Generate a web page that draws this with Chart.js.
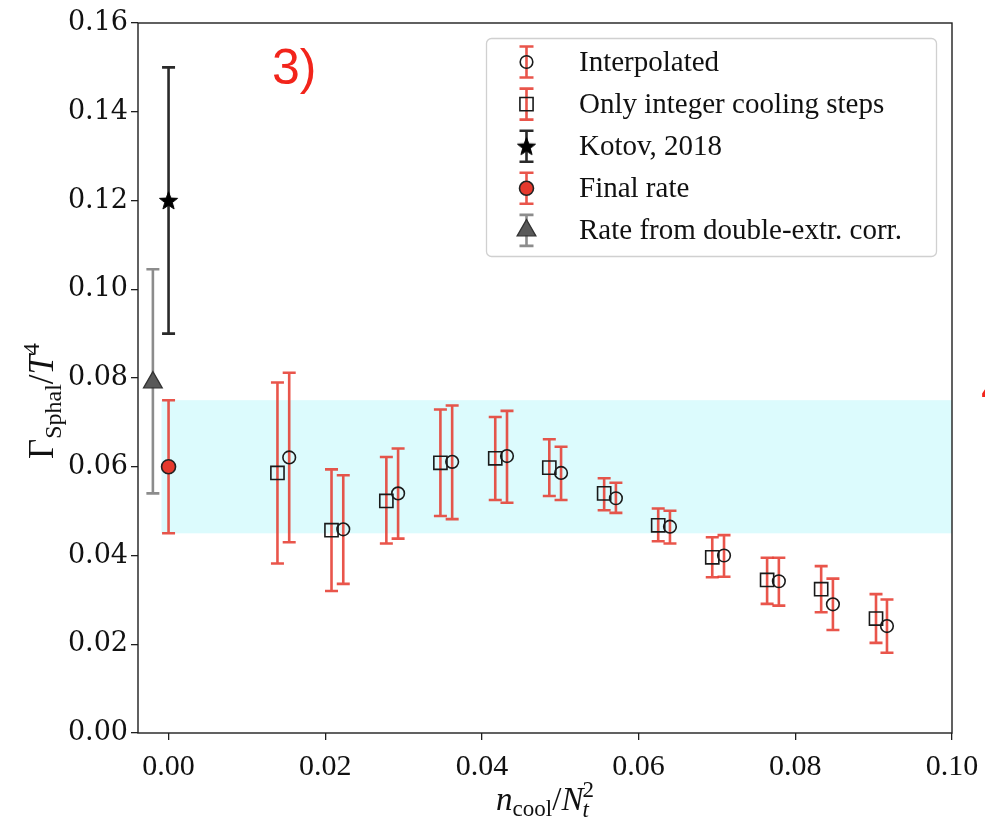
<!DOCTYPE html>
<html>
<head>
<meta charset="utf-8">
<script src="https://cdn.jsdelivr.net/npm/chart.js@4.4.1/dist/chart.umd.min.js"></script>
<style>
  html, body { margin: 0; padding: 0; background: #fff; }
  canvas { display: block; }
</style>
</head>
<body>
<canvas id="c" width="985" height="830"></canvas>
<script>
// ---------------- data ----------------
const xTicks = [0.00, 0.02, 0.04, 0.06, 0.08, 0.10];
const yTicks = [0.00, 0.02, 0.04, 0.06, 0.08, 0.10, 0.12, 0.14, 0.16];

// interpolated rates (circles)
const interpX    = [0.0154, 0.0223, 0.0293, 0.0362, 0.0432, 0.0501, 0.0571, 0.0640, 0.0709, 0.0779, 0.0848, 0.0917];
const interpY    = [0.0621, 0.0459, 0.0540, 0.0611, 0.0624, 0.0586, 0.0529, 0.0465, 0.0400, 0.0342, 0.0290, 0.0241];
const interpLow  = [0.0430, 0.0336, 0.0438, 0.0482, 0.0519, 0.0525, 0.0496, 0.0427, 0.0352, 0.0287, 0.0232, 0.0181];
const interpHigh = [0.0812, 0.0581, 0.0641, 0.0738, 0.0726, 0.0645, 0.0564, 0.0501, 0.0446, 0.0395, 0.0348, 0.0301];

// integer cooling steps only (squares)
const integerX    = [0.0139, 0.0208, 0.0278, 0.0347, 0.0417, 0.0486, 0.0556, 0.0625, 0.0694, 0.0764, 0.0833, 0.0903];
const integerY    = [0.0586, 0.0457, 0.0523, 0.0609, 0.0619, 0.0598, 0.0540, 0.0468, 0.0396, 0.0345, 0.0324, 0.0258];
const integerLow  = [0.0382, 0.0320, 0.0427, 0.0489, 0.0525, 0.0534, 0.0502, 0.0432, 0.0351, 0.0291, 0.0272, 0.0203];
const integerHigh = [0.0790, 0.0594, 0.0622, 0.0729, 0.0712, 0.0662, 0.0574, 0.0506, 0.0441, 0.0395, 0.0376, 0.0313];

// single points
const kotovX = [0.0],    kotovY = [0.120], kotovLow = [0.090], kotovHigh = [0.150];
const finalX = [0.0],    finalY = [0.060], finalLow = [0.045], finalHigh = [0.075];
const doubleX = [-0.002], doubleY = [0.079], doubleLow = [0.054], doubleHigh = [0.1045];

// final-rate band
const bandX = [-0.0009, 0.10];
const bandLow = 0.045, bandHigh = 0.075;

const seriesLabels = ['Interpolated', 'Only integer cooling steps', 'Kotov, 2018', 'Final rate', 'Rate from double-extr. corr.'];

// ---------------- helpers ----------------
const pts = (xs, ys) => xs.map((x, i) => ({ x: x, y: ys[i] }));

function starCanvas(r, color) {
  const s = Math.ceil(r * 2 + 4);
  const c = document.createElement('canvas');
  c.width = c.height = s;
  const g = c.getContext('2d');
  g.translate(s / 2, s / 2 + 0.8);
  g.beginPath();
  for (let k = 0; k < 10; k++) {
    const rad = (k % 2) ? r * 0.42 : r;
    const ang = -Math.PI / 2 + k * Math.PI / 5;
    g.lineTo(rad * Math.cos(ang), rad * Math.sin(ang));
  }
  g.closePath();
  g.fillStyle = color; g.fill();
  g.strokeStyle = color; g.lineWidth = 1; g.stroke();
  return c;
}
const starImg = starCanvas(9.5, '#000');

const RED_ERR = 'rgba(229,55,44,0.85)';

// marker painter used by the legend (same geometry as Chart.js point styles)
function paintMarker(ctx, ds, x, y) {
  ctx.save();
  const st = ds.pointStyle, r = ds.pointRadius;
  if (st instanceof HTMLCanvasElement) {
    ctx.drawImage(st, x - st.width / 2, y - st.height / 2);
    ctx.restore();
    return;
  }
  ctx.fillStyle = ds.backgroundColor;
  ctx.strokeStyle = ds.borderColor;
  ctx.lineWidth = ds.pointBorderWidth;
  ctx.beginPath();
  if (st === 'circle') {
    ctx.arc(x, y, r, 0, Math.PI * 2);
  } else if (st === 'rect') {
    const s = r / Math.SQRT2;
    ctx.rect(x - s, y - s, 2 * s, 2 * s);
  } else if (st === 'triangle') {
    ctx.moveTo(x, y - r);
    ctx.lineTo(x + Math.sin(Math.PI * 2 / 3) * r, y - Math.cos(Math.PI * 2 / 3) * r);
    ctx.lineTo(x + Math.sin(Math.PI * 4 / 3) * r, y - Math.cos(Math.PI * 4 / 3) * r);
    ctx.closePath();
  }
  ctx.fill();
  ctx.stroke();
  ctx.restore();
}

// rich text: segments with their own font and vertical shift
function richWidth(ctx, segs) {
  let w = 0;
  segs.forEach(s => { ctx.font = s.font; w += ctx.measureText(s.t).width + (s.kern || 0); });
  return w;
}
function richDraw(ctx, segs, x, y) {
  let cx = x;
  segs.forEach(s => {
    ctx.font = s.font;
    ctx.fillText(s.t, cx, y + (s.dy || 0));
    cx += ctx.measureText(s.t).width + (s.kern || 0);
  });
}

// ---------------- plugins ----------------
const bandPlugin = {
  id: 'band',
  beforeDatasetsDraw(chart) {
    const { ctx, chartArea: a, scales: { x, y } } = chart;
    ctx.save();
    ctx.beginPath(); ctx.rect(a.left, a.top, a.right - a.left, a.bottom - a.top); ctx.clip();
    const x0 = x.getPixelForValue(bandX[0]), x1 = x.getPixelForValue(bandX[1]);
    const y0 = y.getPixelForValue(bandHigh), y1 = y.getPixelForValue(bandLow);
    ctx.fillStyle = '#dcfbfd';
    ctx.fillRect(x0, y0, x1 - x0, y1 - y0);
    ctx.restore();
  }
};

const errorBarPlugin = {
  id: 'errorBars',
  beforeDatasetsDraw(chart) {
    const { ctx, scales: { x, y } } = chart;
    chart.data.datasets.forEach((ds, i) => {
      if (!ds.errLow || !chart.isDatasetVisible(i)) return;
      ctx.save();
      ctx.strokeStyle = ds.errColor;
      ctx.lineWidth = ds.errWidth;
      const cap = ds.capHalf;
      ds.data.forEach((p, j) => {
        const px = x.getPixelForValue(p.x);
        const top = y.getPixelForValue(ds.errHigh[j]);
        const bot = y.getPixelForValue(ds.errLow[j]);
        ctx.beginPath();
        ctx.moveTo(px, top); ctx.lineTo(px, bot);
        ctx.moveTo(px - cap, top); ctx.lineTo(px + cap, top);
        ctx.moveTo(px - cap, bot); ctx.lineTo(px + cap, bot);
        ctx.stroke();
      });
      ctx.restore();
    });
  }
};

const framePlugin = {
  id: 'frame',
  afterDraw(chart) {
    const { ctx, chartArea: a } = chart;
    ctx.save();
    ctx.strokeStyle = '#1e1e1e';
    ctx.lineWidth = 1.4;
    ctx.strokeRect(a.left, a.top, a.right - a.left, a.bottom - a.top);
    ctx.restore();
  }
};

const legendPlugin = {
  id: 'errLegend',
  afterDraw(chart) {
    const { ctx, chartArea: a } = chart;
    const w = 450, h = 218;
    const bx = a.right - 15.5 - w, by = a.top + 15.5;
    ctx.save();
    // rounded box
    const rr = 5;
    ctx.beginPath();
    ctx.moveTo(bx + rr, by);
    ctx.arcTo(bx + w, by, bx + w, by + h, rr);
    ctx.arcTo(bx + w, by + h, bx, by + h, rr);
    ctx.arcTo(bx, by + h, bx, by, rr);
    ctx.arcTo(bx, by, bx + w, by, rr);
    ctx.closePath();
    ctx.fillStyle = 'rgba(255,255,255,0.85)';
    ctx.fill();
    ctx.strokeStyle = '#d0d0d0';
    ctx.lineWidth = 1.3;
    ctx.stroke();

    const dsets = chart.data.datasets;
    dsets.forEach((ds, i) => {
      const cy = by + 23.5 + i * 42.1;
      const sx = bx + 40;
      // error-bar glyph
      ctx.save();
      ctx.strokeStyle = ds.errColor;
      ctx.lineWidth = ds.errWidth;
      const hh = 15.5, cap = 7;
      ctx.beginPath();
      ctx.moveTo(sx, cy - hh); ctx.lineTo(sx, cy + hh);
      ctx.moveTo(sx - cap, cy - hh); ctx.lineTo(sx + cap, cy - hh);
      ctx.moveTo(sx - cap, cy + hh); ctx.lineTo(sx + cap, cy + hh);
      ctx.stroke();
      ctx.restore();
      paintMarker(ctx, ds, sx, cy);
      // label
      ctx.fillStyle = '#111';
      ctx.font = '29px "Liberation Serif"';
      ctx.textBaseline = 'alphabetic';
      ctx.textAlign = 'left';
      ctx.fillText(ds.label, bx + 92.5, cy + 9);
    });
    ctx.restore();
  }
};

const titlesPlugin = {
  id: 'axisTitles',
  afterDraw(chart) {
    const { ctx, chartArea: a } = chart;
    ctx.save();
    ctx.fillStyle = '#111';
    ctx.textBaseline = 'alphabetic';
    ctx.textAlign = 'left';

    // x axis title: n_cool / N_t^2
    const xs = [
      { t: 'n', font: 'italic 33px "Liberation Serif"' },
      { t: 'cool', font: '23px "Liberation Serif"', dy: 6 },
      { t: '/', font: '33px "Liberation Serif"' },
      { t: 'N', font: 'italic 33px "Liberation Serif"', kern: -1 },
      { t: '2', font: '23px "Liberation Serif"', dy: -13 }
    ];
    const xw = richWidth(ctx, xs);
    const xcx = (a.left + a.right) / 2 - xw / 2;
    // main parts, with subscript t set under the superscript 2
    let cx = xcx;
    xs.forEach(s => {
      ctx.font = s.font;
      if (s.t === '2') {
        ctx.font = 'italic 23px "Liberation Serif"';
        ctx.fillText('t', cx, 810 + 7);
        ctx.font = s.font;
      }
      ctx.fillText(s.t, cx, 810 + (s.dy || 0));
      cx += ctx.measureText(s.t).width + (s.kern || 0);
    });

    // y axis title: Gamma_Sphal / T^4 (rotated)
    const ys = [
      { t: 'Γ', font: '35px "Liberation Serif"' },
      { t: 'Sphal', font: '24px "Liberation Serif"', dy: 8 },
      { t: '/', font: '35px "Liberation Serif"' },
      { t: 'T', font: 'italic 35px "Liberation Serif"' },
      { t: '4', font: '24px "Liberation Serif"', dy: -14 }
    ];
    const yw = richWidth(ctx, ys);
    ctx.translate(53, (a.top + a.bottom) / 2 + 23);
    ctx.rotate(-Math.PI / 2);
    richDraw(ctx, ys, -yw / 2, 0);
    ctx.restore();

    // panel tags
    ctx.save();
    ctx.fillStyle = '#f2241b';
    ctx.font = '50px "Liberation Sans"';
    ctx.textBaseline = 'alphabetic';
    ctx.fillText('3)', 272, 84);
    ctx.fillText('4)', 981, 405);
    ctx.restore();
  }
};

// ---------------- chart ----------------
Chart.defaults.font.family = '"Liberation Serif"';
Chart.defaults.color = '#111';

const ds = (label, xs, ys, lo, hi, style) => Object.assign({
  label: label,
  data: pts(xs, ys),
  errLow: lo,
  errHigh: hi,
  showLine: false
}, style);

new Chart(document.getElementById('c'), {
  type: 'scatter',
  data: {
    datasets: [
      ds(seriesLabels[0], interpX, interpY, interpLow, interpHigh, {
        pointStyle: 'circle', pointRadius: 6.3, pointBorderWidth: 1.6,
        borderColor: '#1a1a1a', backgroundColor: 'rgba(0,0,0,0)',
        errColor: RED_ERR, errWidth: 2.6, capHalf: 6.5
      }),
      ds(seriesLabels[1], integerX, integerY, integerLow, integerHigh, {
        pointStyle: 'rect', pointRadius: 9.3, pointBorderWidth: 1.6,
        borderColor: '#1a1a1a', backgroundColor: 'rgba(0,0,0,0)',
        errColor: RED_ERR, errWidth: 2.6, capHalf: 6.5
      }),
      ds(seriesLabels[2], kotovX, kotovY, kotovLow, kotovHigh, {
        pointStyle: starImg, pointRadius: 9, pointBorderWidth: 0,
        borderColor: '#000', backgroundColor: '#000',
        errColor: '#2a2a2a', errWidth: 2.6, capHalf: 6.5
      }),
      ds(seriesLabels[3], finalX, finalY, finalLow, finalHigh, {
        pointStyle: 'circle', pointRadius: 7, pointBorderWidth: 1.6,
        borderColor: '#222', backgroundColor: '#e5392d',
        errColor: RED_ERR, errWidth: 2.6, capHalf: 6.5
      }),
      ds(seriesLabels[4], doubleX, doubleY, doubleLow, doubleHigh, {
        pointStyle: 'triangle', pointRadius: 10.8, pointBorderWidth: 1.3,
        borderColor: '#333', backgroundColor: '#595959',
        errColor: '#8c8c8c', errWidth: 2.6, capHalf: 6.5
      })
    ]
  },
  options: {
    responsive: false,
    devicePixelRatio: 1,
    animation: false,
    events: [],
    layout: { padding: { top: 23, right: 33, left: 0, bottom: 0 } },
    plugins: {
      legend: { display: false },
      tooltip: { enabled: false }
    },
    scales: {
      x: {
        type: 'linear',
        min: -0.0039,
        max: 0.10,
        afterBuildTicks: s => { s.ticks = xTicks.map(v => ({ value: v })); },
        afterFit: s => { s.height = 97; s.paddingLeft = 0; s.paddingRight = 0; },
        ticks: {
          callback: v => v.toFixed(2),
          font: { size: 30, family: '"Liberation Serif"' },
          color: '#111',
          padding: 9,
          maxRotation: 0,
          autoSkip: false
        },
        grid: { drawOnChartArea: false, drawTicks: true, tickLength: 7, color: '#1e1e1e', lineWidth: 1.3 },
        border: { display: false }
      },
      y: {
        type: 'linear',
        min: 0,
        max: 0.16,
        afterBuildTicks: s => { s.ticks = yTicks.map(v => ({ value: v })); },
        afterFit: s => { s.width = 138; s.paddingTop = 0; s.paddingBottom = 0; },
        ticks: {
          callback: v => v.toFixed(2),
          font: { size: 27, family: '"DejaVu Serif"' },
          color: '#111',
          padding: 3,
          autoSkip: false
        },
        grid: { drawOnChartArea: false, drawTicks: true, tickLength: 7, color: '#1e1e1e', lineWidth: 1.3 },
        border: { display: false }
      }
    }
  },
  plugins: [bandPlugin, errorBarPlugin, framePlugin, legendPlugin, titlesPlugin]
});
</script>
</body>
</html>
